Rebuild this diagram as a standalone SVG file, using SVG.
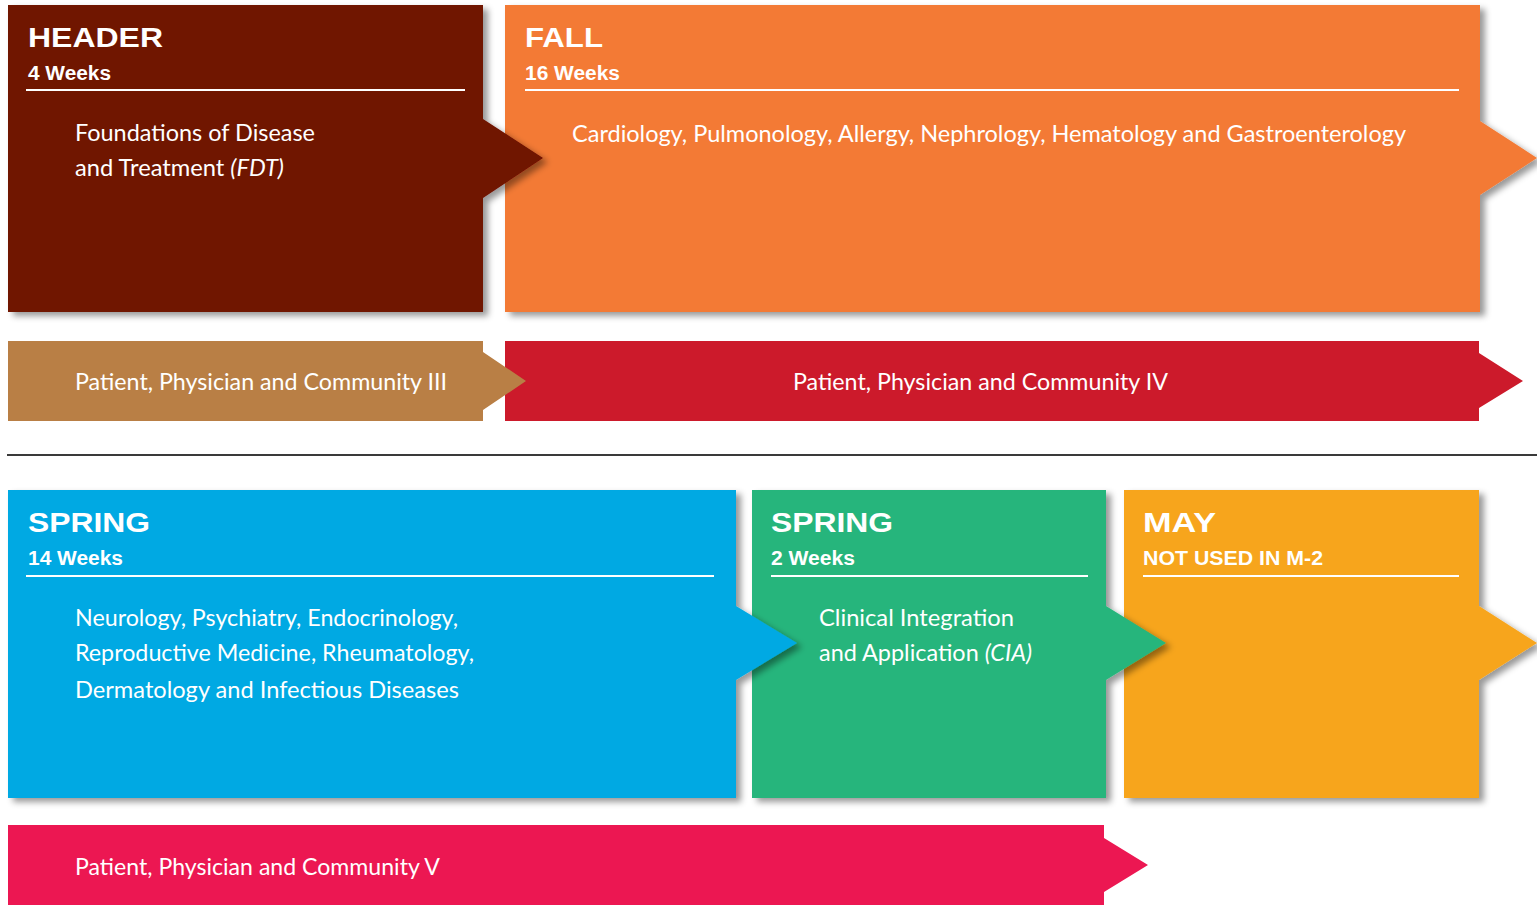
<svg xmlns="http://www.w3.org/2000/svg" width="1537" height="908" viewBox="0 0 1537 908">
  <style>
    .title { font-family: "Liberation Sans", Arial, sans-serif; font-weight: bold; font-size: 28px; fill: #fff; }
    .sub { font-family: "Liberation Sans", Arial, sans-serif; font-weight: bold; font-size: 20px; fill: #fff; }
    .body { font-family: Lato, "Liberation Sans", sans-serif; font-size: 24px; fill: #fff; }
    .rule { stroke: #fff; stroke-width: 2; }
  </style>
  <defs>
    <filter id="shadow" x="-5%" y="-5%" width="115%" height="115%">
      <feDropShadow dx="5" dy="4" stdDeviation="3" flood-color="#000" flood-opacity="0.4"/>
    </filter>
  </defs>
  <rect width="1537" height="908" fill="#fff"/>

  <!-- Year 1 blocks: drawn right to left so each arrow tip lies over its neighbour -->
  <g id="fall">
    <path d="M505,5 H1480 V121 L1537,158 L1480,195 V312 H505 Z" fill="#f37a35" filter="url(#shadow)"/>
    <text class="title" x="525" y="47" textLength="78" lengthAdjust="spacingAndGlyphs">FALL</text>
    <text class="sub" x="525" y="80" textLength="95" lengthAdjust="spacingAndGlyphs">16 Weeks</text>
    <line class="rule" x1="525" y1="90" x2="1459" y2="90"/>
    <text class="body" x="572" y="142" textLength="834" lengthAdjust="spacingAndGlyphs">Cardiology, Pulmonology, Allergy, Nephrology, Hematology and Gastroenterology</text>
  </g>
  <g id="header">
    <path d="M8,5 H483 V119 L543,158 L483,198 V312 H8 Z" fill="#6f1300" filter="url(#shadow)"/>
    <text class="title" x="28" y="47" textLength="135" lengthAdjust="spacingAndGlyphs">HEADER</text>
    <text class="sub" x="28" y="80" textLength="83" lengthAdjust="spacingAndGlyphs">4 Weeks</text>
    <line class="rule" x1="26" y1="90" x2="465" y2="90"/>
    <text class="body" x="75" y="141" textLength="240" lengthAdjust="spacingAndGlyphs">Foundations of Disease</text>
    <text class="body" x="75" y="176" textLength="209" lengthAdjust="spacingAndGlyphs">and Treatment <tspan font-style="italic">(FDT)</tspan></text>
  </g>

  <g id="ppc4">
    <path d="M505,341 H1479 V353 L1523,381 L1479,408 V421 H505 Z" fill="#cc1a2b"/>
    <text class="body" x="793" y="390" textLength="375" lengthAdjust="spacingAndGlyphs">Patient, Physician and Community IV</text>
  </g>
  <g id="ppc3">
    <path d="M8,341 H483 V352 L526,381 L483,410 V421 H8 Z" fill="#b97f45"/>
    <text class="body" x="75" y="390" textLength="372" lengthAdjust="spacingAndGlyphs">Patient, Physician and Community III</text>
  </g>

  <line id="divider" x1="7" y1="455" x2="1537" y2="455" stroke="#3a3a3a" stroke-width="2"/>

  <!-- Year 2 blocks -->
  <g id="may">
    <path d="M1124,490 H1479 V606 L1537,643 L1479,680 V798 H1124 Z" fill="#f7a51e" filter="url(#shadow)"/>
    <text class="title" x="1143" y="532" textLength="73" lengthAdjust="spacingAndGlyphs">MAY</text>
    <text class="sub" x="1143" y="565" textLength="180" lengthAdjust="spacingAndGlyphs">NOT USED IN M-2</text>
    <line class="rule" x1="1143" y1="576" x2="1459" y2="576"/>
  </g>
  <g id="spring-cia">
    <path d="M752,490 H1106 V606 L1166,643 L1106,680 V798 H752 Z" fill="#28b57b" filter="url(#shadow)"/>
    <text class="title" x="771" y="532" textLength="122" lengthAdjust="spacingAndGlyphs">SPRING</text>
    <text class="sub" x="771" y="565" textLength="84" lengthAdjust="spacingAndGlyphs">2 Weeks</text>
    <line class="rule" x1="771" y1="576" x2="1088" y2="576"/>
    <text class="body" x="819" y="626" textLength="195" lengthAdjust="spacingAndGlyphs">Clinical Integration</text>
    <text class="body" x="819" y="661" textLength="213" lengthAdjust="spacingAndGlyphs">and Application <tspan font-style="italic">(CIA)</tspan></text>
  </g>
  <g id="spring">
    <path d="M8,490 H736 V606 L797,643 L736,680 V798 H8 Z" fill="#00a9e3" filter="url(#shadow)"/>
    <text class="title" x="28" y="532" textLength="122" lengthAdjust="spacingAndGlyphs">SPRING</text>
    <text class="sub" x="28" y="565" textLength="95" lengthAdjust="spacingAndGlyphs">14 Weeks</text>
    <line class="rule" x1="26" y1="576" x2="714" y2="576"/>
    <text class="body" x="75" y="626" textLength="383" lengthAdjust="spacingAndGlyphs">Neurology, Psychiatry, Endocrinology,</text>
    <text class="body" x="75" y="661" textLength="399" lengthAdjust="spacingAndGlyphs">Reproductive Medicine, Rheumatology,</text>
    <text class="body" x="75" y="698" textLength="384" lengthAdjust="spacingAndGlyphs">Dermatology and Infectious Diseases</text>
  </g>

  <g id="ppc5">
    <path d="M8,825 H1104 V838 L1148,865 L1104,892 V905 H8 Z" fill="#ec1752"/>
    <text class="body" x="75" y="875" textLength="365" lengthAdjust="spacingAndGlyphs">Patient, Physician and Community V</text>
  </g>

  <!-- the blocks abut one another; there are no separate connector lines -->
  <g id="connectors"/>
</svg>
